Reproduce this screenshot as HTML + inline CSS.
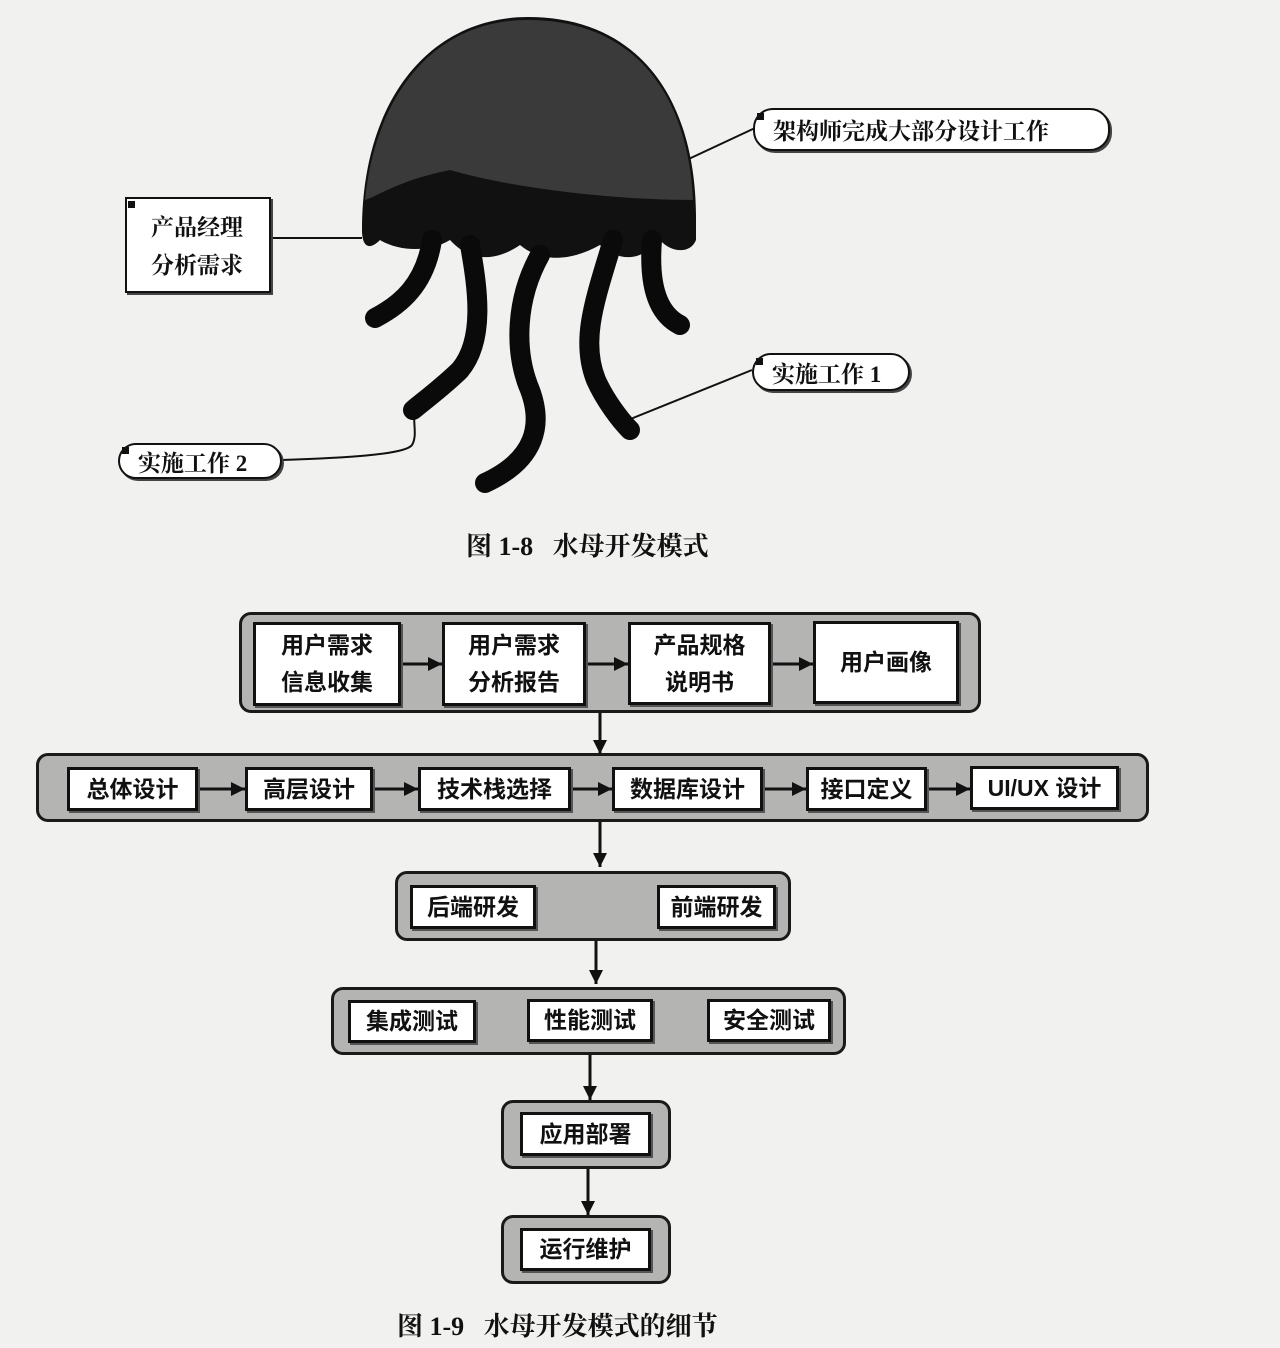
<!DOCTYPE html>
<html><head><meta charset="utf-8"><style>
body{margin:0;width:1280px;height:1348px;background:#f1f1ef;position:relative;overflow:hidden;font-family:"Liberation Sans","Noto Sans CJK SC",sans-serif;}
.g{position:absolute;background:#b4b4b2;border:3px solid #1a1a1a;border-radius:12px;box-sizing:border-box;}
.b{position:absolute;background:#fff;border:3px solid #111;box-sizing:border-box;display:flex;align-items:center;justify-content:center;text-align:center;font-size:23px;font-weight:bold;line-height:37px;color:#111;box-shadow:2px 2px 0 #555;}
.cap{position:absolute;font-family:"Liberation Serif","Noto Serif CJK SC",serif;font-size:26px;font-weight:bold;color:#111;}
.pill{position:absolute;border:2px solid #111;border-radius:20px;background:#fff;box-sizing:border-box;font-family:"Liberation Serif","Noto Serif CJK SC",serif;font-size:23px;font-weight:bold;display:flex;align-items:center;padding-left:18px;color:#111;box-shadow:2px 2px 0 #444;}
.sq{position:absolute;width:7px;height:7px;background:#111;}
</style></head><body>
<svg width="1280" height="1348" style="position:absolute;left:0;top:0">
<g stroke="#111" fill="none" stroke-width="2">
<path d="M270,238 L362,238"/>
<path d="M648,178 L755,128"/>
<path d="M628,420 L752,370"/>
<path d="M282,460 C340,458 405,455 412,445 C418,435 412,420 415,410"/>
</g>
<path d="M362,230 C362,100 430,17 528,17 C640,17 695,100 696,215 L696,240 C690,255 670,252 660,240 C640,262 620,262 600,245 C570,262 540,262 520,245 C495,262 470,262 450,240 C430,252 400,252 380,240 C368,252 362,245 362,230 Z" fill="#111"/>
<path d="M365,200 C375,100 430,20 528,20 C635,20 688,95 693,200 C620,200 520,190 450,170 C400,180 380,195 365,200 Z" fill="#3a3a3a"/>
<g stroke="#0a0a0a" stroke-width="20" stroke-linecap="round" fill="none">
<path d="M432,240 C425,285 400,305 375,318"/>
<path d="M470,245 C478,290 485,340 460,370 C445,385 425,400 413,410"/>
<path d="M540,255 C515,300 515,350 528,385 C545,425 535,460 485,483"/>
<path d="M613,240 C595,300 580,340 596,380 C605,400 620,420 630,430"/>
<path d="M652,240 C648,290 660,315 680,325"/>
</g>
</svg>
<div style="position:absolute;left:125px;top:197px;width:146px;height:96px;border:2px solid #111;background:#fff;box-sizing:border-box;box-shadow:2px 2px 0 #444;font-family:'Liberation Serif','Noto Serif CJK SC',serif;font-size:23px;font-weight:bold;line-height:38px;padding:10px 0 0 24px;color:#111">产品经理<br>分析需求</div>
<div class="sq" style="left:128px;top:201px"></div>
<div class="pill" style="left:753px;top:108px;width:357px;height:43px">架构师完成大部分设计工作</div>
<div class="sq" style="left:757px;top:113px"></div>
<div class="pill" style="left:752px;top:353px;width:158px;height:38px">实施工作 1</div>
<div class="sq" style="left:756px;top:358px"></div>
<div class="pill" style="left:118px;top:443px;width:164px;height:36px">实施工作 2</div>
<div class="sq" style="left:122px;top:447px"></div>
<div class="cap" style="left:466px;top:526px">图 1-8&nbsp;&nbsp;&nbsp;水母开发模式</div>

<svg width="1280" height="1348" style="position:absolute;left:0;top:0">
<defs>
<marker id="m" viewBox="0 0 10 10" refX="10" refY="5" markerWidth="16" markerHeight="14" orient="auto" markerUnits="userSpaceOnUse"><path d="M0,0 L10,5 L0,10 Z" fill="#111"/></marker></defs>
<g stroke="#111" stroke-width="3" marker-end="url(#m)">
<line x1="600" y1="712" x2="600" y2="754"/>
<line x1="600" y1="821" x2="600" y2="867"/>
<line x1="596" y1="940" x2="596" y2="984"/>
<line x1="590" y1="1054" x2="590" y2="1100"/>
<line x1="588" y1="1168" x2="588" y2="1215"/>
</g>
</svg>
<div class="g" style="left:239px;top:612px;width:742px;height:101px"></div>
<div class="g" style="left:36px;top:753px;width:1113px;height:69px"></div>
<div class="g" style="left:395px;top:871px;width:396px;height:70px"></div>
<div class="g" style="left:331px;top:987px;width:515px;height:68px"></div>
<div class="g" style="left:501px;top:1100px;width:170px;height:69px"></div>
<div class="g" style="left:501px;top:1215px;width:170px;height:69px"></div>
<svg width="1280" height="1348" style="position:absolute;left:0;top:0">
<defs><marker id="m2" viewBox="0 0 10 10" refX="10" refY="5" markerWidth="16" markerHeight="14" orient="auto" markerUnits="userSpaceOnUse"><path d="M0,0 L10,5 L0,10 Z" fill="#111"/></marker></defs>
<g stroke="#111" stroke-width="3" marker-end="url(#m2)">
<line x1="400" y1="664" x2="442" y2="664"/>
<line x1="585" y1="664" x2="628" y2="664"/>
<line x1="770" y1="664" x2="813" y2="664"/>
<line x1="197" y1="789" x2="245" y2="789"/>
<line x1="372" y1="789" x2="418" y2="789"/>
<line x1="570" y1="789" x2="612" y2="789"/>
<line x1="762" y1="789" x2="806" y2="789"/>
<line x1="926" y1="789" x2="970" y2="789"/>
</g></svg>
<div class="b" style="left:253px;top:622px;width:148px;height:84px">用户需求<br>信息收集</div>
<div class="b" style="left:442px;top:622px;width:144px;height:84px">用户需求<br>分析报告</div>
<div class="b" style="left:628px;top:622px;width:143px;height:83px">产品规格<br>说明书</div>
<div class="b" style="left:813px;top:621px;width:146px;height:83px">用户画像</div>
<div class="b" style="left:67px;top:767px;width:131px;height:44px">总体设计</div>
<div class="b" style="left:245px;top:767px;width:128px;height:44px">高层设计</div>
<div class="b" style="left:418px;top:767px;width:153px;height:44px">技术栈选择</div>
<div class="b" style="left:612px;top:767px;width:151px;height:44px">数据库设计</div>
<div class="b" style="left:806px;top:767px;width:121px;height:44px">接口定义</div>
<div class="b" style="left:970px;top:766px;width:149px;height:44px">UI/UX 设计</div>
<div class="b" style="left:410px;top:885px;width:126px;height:44px">后端研发</div>
<div class="b" style="left:657px;top:885px;width:119px;height:44px">前端研发</div>
<div class="b" style="left:348px;top:1000px;width:128px;height:43px">集成测试</div>
<div class="b" style="left:527px;top:999px;width:126px;height:43px">性能测试</div>
<div class="b" style="left:707px;top:999px;width:124px;height:43px">安全测试</div>
<div class="b" style="left:520px;top:1112px;width:131px;height:44px">应用部署</div>
<div class="b" style="left:520px;top:1228px;width:131px;height:43px">运行维护</div>
<div class="cap" style="left:397px;top:1306px">图 1-9&nbsp;&nbsp;&nbsp;水母开发模式的细节</div>
</body></html>
